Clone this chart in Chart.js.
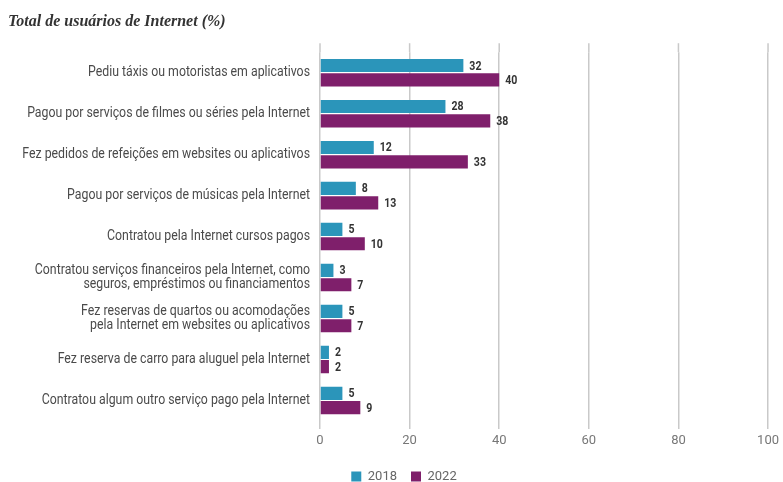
<!DOCTYPE html>
<html>
<head>
<meta charset="utf-8">
<script src="https://cdn.jsdelivr.net/npm/chart.js@4.4.1/dist/chart.umd.min.js"></script>
<style>
  html, body { margin: 0; padding: 0; background: #fff; }
  #wrap { width: 783px; height: 482px; position: relative; }
</style>
</head>
<body>
<div id="wrap"><canvas id="chart"></canvas></div>
<script>
const categories = [
  'Pediu táxis ou motoristas em aplicativos',
  'Pagou por serviços de filmes ou séries pela Internet',
  'Fez pedidos de refeições em websites ou aplicativos',
  'Pagou por serviços de músicas pela Internet',
  'Contratou pela Internet cursos pagos',
  ['Contratou serviços financeiros pela Internet, como', 'seguros, empréstimos ou financiamentos'],
  ['Fez reservas de quartos ou acomodações', 'pela Internet em websites ou aplicativos'],
  'Fez reserva de carro para aluguel pela Internet',
  'Contratou algum outro serviço pago pela Internet'
];
const values2018 = [32, 28, 12, 8, 5, 3, 5, 2, 5];
const values2022 = [40, 38, 33, 13, 10, 7, 7, 2, 9];
const xTicks = [0, 20, 40, 60, 80, 100];

const sans = "Roboto, 'Liberation Sans', sans-serif";
const squeeze = 0.88; // the original uses a condensed face

// value labels at the end of each bar
const barLabels = {
  id: 'barLabels',
  afterDatasetsDraw(chart) {
    const ctx = chart.ctx;
    ctx.save();
    ctx.font = "bold 12px " + sans;
    ctx.fillStyle = '#333';
    ctx.textBaseline = 'middle';
    chart.data.datasets.forEach((ds, i) => {
      chart.getDatasetMeta(i).data.forEach((bar, j) => {
        ctx.save();
        ctx.translate(bar.x + 6, bar.y + 1);
        ctx.scale(squeeze, 1);
        ctx.fillText(ds.data[j], 0, 0);
        ctx.restore();
      });
    });
    ctx.restore();
  }
};

// category labels, drawn narrower than the stock tick labels
const catLabels = {
  id: 'catLabels',
  afterDraw(chart) {
    const ctx = chart.ctx;
    const ys = chart.scales.y;
    ctx.save();
    ctx.font = "14px " + sans;
    ctx.fillStyle = '#4a4a4a';
    ctx.textAlign = 'right';
    ctx.textBaseline = 'middle';
    const right = chart.chartArea.left - 10;
    categories.forEach((lab, i) => {
      const lines = Array.isArray(lab) ? lab : [lab];
      const cy = ys.getPixelForValue(i);
      lines.forEach((t, k) => {
        ctx.save();
        ctx.translate(right, cy + (k - (lines.length - 1) / 2) * 14);
        ctx.scale(squeeze, 1);
        ctx.fillText(t, 0, 0);
        ctx.restore();
      });
    });
    ctx.restore();
  }
};

// gridlines poke a bit above the top of the plot
const gridTop = {
  id: 'gridTop',
  beforeDatasetsDraw(chart) {
    const ctx = chart.ctx;
    const xs = chart.scales.x;
    ctx.save();
    ctx.strokeStyle = '#c9c9c9';
    ctx.lineWidth = 1.5;
    xTicks.forEach(v => {
      const px = xs.getPixelForValue(v);
      ctx.beginPath();
      ctx.moveTo(px, chart.chartArea.top - 9);
      ctx.lineTo(px, chart.chartArea.top);
      ctx.stroke();
    });
    ctx.restore();
  }
};

// nudge the legend a little right, like the original
const legendNudge = {
  id: 'legendNudge',
  afterLayout(chart) {
    chart.legend.left += 15;
    chart.legend.right += 15;
  }
};

new Chart(document.getElementById('chart'), {
  type: 'bar',
  data: {
    labels: categories,
    datasets: [
      { label: '2018', data: values2018, backgroundColor: '#2b95ba', categoryPercentage: 0.7, barPercentage: 0.92 },
      { label: '2022', data: values2022, backgroundColor: '#7f1f6b', categoryPercentage: 0.7, barPercentage: 0.92 }
    ]
  },
  options: {
    indexAxis: 'y',
    responsive: true,
    maintainAspectRatio: false,
    animation: false,
    layout: { padding: { left: 8, right: 13, top: 0, bottom: -11 } },
    scales: {
      x: {
        min: 0, max: 100,
        afterBuildTicks: s => { s.ticks = xTicks.map(v => ({ value: v })); },
        afterFit: s => { s.height = 35; },
        border: { display: false },
        grid: { color: '#c9c9c9', lineWidth: 1.5, tickLength: 8, drawTicks: true },
        ticks: { color: '#777', padding: 4, font: { size: 13, family: sans } }
      },
      y: {
        afterFit: s => { s.width = 312; },
        border: { display: false },
        grid: { display: false },
        ticks: { display: false }
      }
    },
    plugins: {
      title: {
        display: true,
        text: 'Total de usuários de Internet (%)',
        align: 'start',
        color: '#333',
        font: { family: "'Liberation Serif', 'DejaVu Serif', serif", size: 16, style: 'italic', weight: 'bold' },
        padding: { top: 12, bottom: 21 }
      },
      legend: {
        position: 'bottom',
        labels: { boxWidth: 10, boxHeight: 10, padding: 14, color: '#666', font: { size: 13, family: sans } }
      },
      tooltip: { enabled: false }
    }
  },
  plugins: [barLabels, catLabels, gridTop, legendNudge]
});
</script>
</body>
</html>
